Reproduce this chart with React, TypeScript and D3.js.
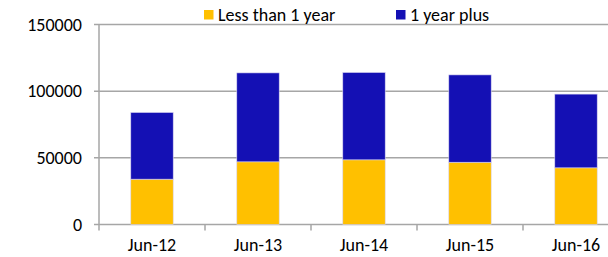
import React from "react";
import * as d3 from "d3";

const categories = ["Jun-12", "Jun-13", "Jun-14", "Jun-15", "Jun-16"];
const lessThan1Year = [34000, 47000, 48500, 46700, 42500];
const oneYearPlus = [50000, 66700, 65500, 65500, 55300];
const yTicks = [0, 50000, 100000, 150000];
const seriesNames = ["Less than 1 year", "1 year plus"];
const seriesColors = ["#FFC000", "#1410B4"];

const W = 608, H = 257;
const left = 99, right = 629, top = 24.5, bottom = 224.5;
const font = "Carlito, Calibri, 'Liberation Sans', Arial, sans-serif";
const fs = 18;

export default function App() {
  const x = d3.scaleBand<string>().domain(categories).range([left, right]).paddingInner(0.6).paddingOuter(0.3);
  const xb = d3.scaleBand<string>().domain(categories).range([left, right]);
  const y = d3.scaleLinear().domain([0, 150000]).range([bottom, top]);
  const data = categories.map((c, i) => ({ c, a: lessThan1Year[i], b: oneYearPlus[i] }));
  const stack = d3.stack<any>().keys(["a", "b"])(data);
  return (
    <svg width={W} height={H} style={{ position: "absolute", left: 0, top: 0, background: "#fff" }}>
      {yTicks.map((t) => (
        <g key={t}>
          <line x1={left - 5} x2={W} y1={y(t)} y2={y(t)} stroke="#a6a6a6" strokeWidth={1.5} />
          <text x={82} y={y(t)} dy="0.35em" textAnchor="end" fontFamily={font} fontSize={fs} fill="#000">{t}</text>
        </g>
      ))}
      <line x1={left} x2={left} y1={top} y2={bottom + 6} stroke="#a6a6a6" strokeWidth={1.5} />
      {categories.map((c) => (
        <line key={c} x1={xb(c)! + xb.bandwidth()} x2={xb(c)! + xb.bandwidth()} y1={bottom} y2={bottom + 6} stroke="#a6a6a6" strokeWidth={1.5} />
      ))}
      {stack.map((s, si) => (
        <g key={si}>
          {s.map((d, i) => (
            <rect key={i} x={x(categories[i])} width={x.bandwidth()} y={y(d[1])} height={y(d[0]) - y(d[1])}
              fill={seriesColors[si]} stroke="#d8d4f0" strokeWidth={0.6} />
          ))}
        </g>
      ))}
      {categories.map((c) => (
        <text key={c} x={xb(c)! + xb.bandwidth() / 2} y={251} textAnchor="middle" fontFamily={font} fontSize={fs} fill="#000">{c}</text>
      ))}
      {seriesNames.map((n, i) => {
        const lx = [204, 396][i];
        return (
          <g key={n}>
            <rect x={lx} y={10} width={9.5} height={9.5} fill={seriesColors[i]} />
            <text x={lx + 14} y={15} dy="0.35em" fontFamily={font} fontSize={fs} fill="#000">{n}</text>
          </g>
        );
      })}
    </svg>
  );
}
